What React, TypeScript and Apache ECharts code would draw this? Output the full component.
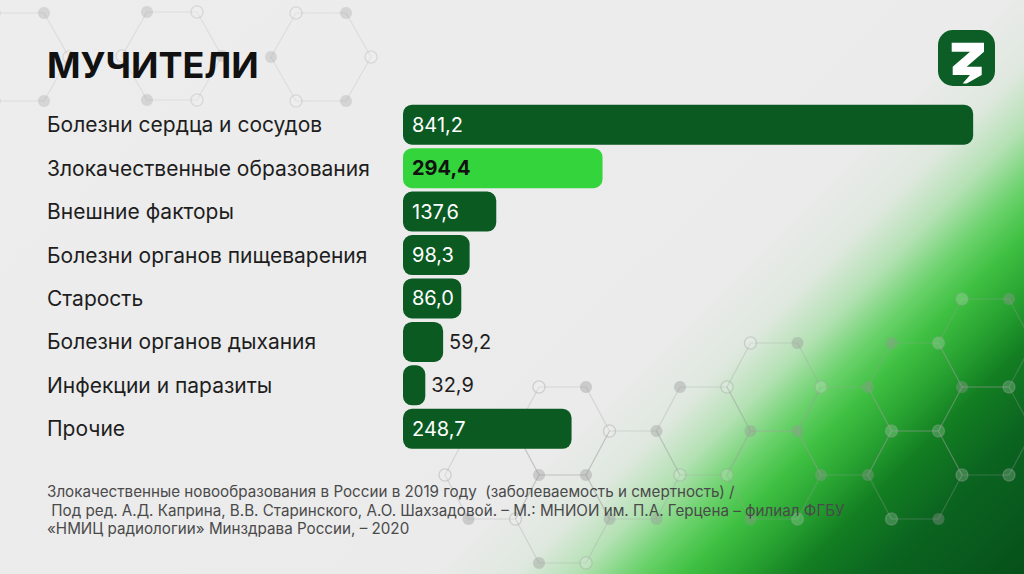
import React, { useEffect, useRef } from "react";
import * as echarts from "echarts";

const title = "МУЧИТЕЛИ";
const categories = [
  "Болезни сердца и сосудов",
  "Злокачественные образования",
  "Внешние факторы",
  "Болезни органов пищеварения",
  "Старость",
  "Болезни органов дыхания",
  "Инфекции и паразиты",
  "Прочие",
];
const values = [841.2, 294.4, 137.6, 98.3, 86.0, 59.2, 32.9, 248.7];
const highlightIndex = 1;
const footerLines = [
  "Злокачественные новообразования в России в 2019 году  (заболеваемость и смертность) /",
  " Под ред. А.Д. Каприна, В.В. Старинского, А.О. Шахзадовой. – М.: МНИОИ им. П.А. Герцена – филиал ФГБУ",
  "«НМИЦ радиологии» Минздрава России, – 2020",
];

const FONT = "Inter, 'Open Sans', sans-serif";
const DARK = "#0a5a22";
const BRIGHT = "#33d43c";

// decorative hexagon centres (background ornament)
const hexCentres: [number, number, number][] = [
  [19, 57, 50], [172, 56, 50], [321, 57, 50],
  [492, 475, 47], [562.5, 431, 47], [562.5, 519, 47], [633, 475, 47],
  [703.5, 431, 47], [774, 387, 47], [774, 475, 47], [844.5, 431, 47],
  [915, 387, 47], [915, 475, 47], [985.5, 431, 47], [985.5, 343, 47],
];

function hexDecor() {
  const els: any[] = [];
  const hh = 44;
  const seen = new Set<string>();
  hexCentres.forEach(([cx, cy, s], hi) => {
    const top = cy < 200;
    const a = top ? 0.2 : 0.3;
    const pts = [
      [cx - s / 2, cy - hh], [cx + s / 2, cy - hh], [cx + s, cy],
      [cx + s / 2, cy + hh], [cx - s / 2, cy + hh], [cx - s, cy],
    ];
    els.push({
      type: "polygon",
      shape: { points: pts },
      style: { fill: "none", stroke: `rgba(160,160,160,${a})`, lineWidth: 1.2 },
      z: 1,
      silent: true,
    });
    pts.forEach((p, k) => {
      const key = Math.round(p[0]) + "," + Math.round(p[1]);
      if (seen.has(key)) return;
      seen.add(key);
      const ring = (hi + k) % 2 === 0;
      els.push({
        type: "circle",
        shape: { cx: p[0], cy: p[1], r: 6 },
        style: ring
          ? { fill: "rgba(245,245,245,0.2)", stroke: `rgba(160,160,160,${a + 0.08})`, lineWidth: 1.3 }
          : { fill: `rgba(150,150,150,${a + 0.08})` },
        z: 1,
        silent: true,
      });
    });
  });
  return els;
}

export default function App() {
  const ref = useRef<HTMLDivElement>(null);
  useEffect(() => {
    document.body.style.margin = "0";
    const chart = echarts.init(ref.current!, undefined, { renderer: "svg" });
    const fmt = (v: number) => v.toFixed(1).replace(".", ",");
    const data = values.map((v, i) => {
      const hi = i === highlightIndex;
      const outside = v < 60;
      return {
        value: v,
        itemStyle: { color: hi ? BRIGHT : DARK, borderRadius: 9 },
        label: {
          show: true,
          position: outside ? "right" : "insideLeft",
          distance: outside ? 6 : 9,
          formatter: () => fmt(v),
          color: hi ? "#111" : outside ? "#1e1e1e" : "#ffffff",
          fontWeight: hi ? "bold" : "normal",
          fontSize: 20,
          fontFamily: FONT,
        },
      };
    });
    const logoPts = [
      [951.7, 42.7], [984, 42.7], [984, 51.7], [966.7, 66.7], [981.7, 66.7], [981.7, 75],
      [966.7, 83.5], [962.7, 83.5], [970, 75], [952.7, 75], [952.7, 66.7], [970, 51.7], [951.7, 51.7],
    ];
    chart.setOption({
      animation: false,
      backgroundColor: "#ebebeb",
      graphic: [
        {
          type: "rect",
          shape: { x: 0, y: 0, width: 1024, height: 574 },
          style: {
            fill: new echarts.graphic.LinearGradient(
              0, 0, 799, 799,
              [
                { offset: 0, color: "#ededed" },
                { offset: 0.626, color: "#ebebeb" },
                { offset: 0.682, color: "#dfe8df" },
                { offset: 0.72, color: "#b4e1b4" },
                { offset: 0.757, color: "#6ad26b" },
                { offset: 0.788, color: "#3fc042" },
                { offset: 0.826, color: "#26a030" },
                { offset: 0.857, color: "#137f22" },
                { offset: 0.907, color: "#0b6420" },
                { offset: 1, color: "#06501a" },
              ],
              true
            ),
          },
          z: 0,
          silent: true,
        },
        ...hexDecor(),
        {
          type: "text",
          left: 47,
          top: 47,
          style: { text: title, fontSize: 36, fontWeight: "bold", fill: "#111", fontFamily: FONT },
          z: 5,
        },
        {
          type: "rect",
          shape: { x: 938, y: 30, width: 57, height: 56, r: 15 },
          style: { fill: "#0d5e26" },
          z: 5,
        },
        {
          type: "polygon",
          shape: { points: logoPts },
          style: { fill: "#ffffff" },
          z: 6,
        },
        ...footerLines.map((t, i) => ({
          type: "text",
          left: 47,
          top: 484 + i * 18.5,
          style: { text: t, fontSize: 15.2, fill: "#4a4a4a", fontFamily: FONT },
          z: 5,
        })),
      ],
      grid: { left: 403, top: 103, width: 610, height: 347.5, containLabel: false },
      xAxis: { type: "value", min: 0, max: 900, show: false },
      yAxis: {
        type: "category",
        data: categories,
        inverse: true,
        axisLine: { show: false },
        axisTick: { show: false },
        splitLine: { show: false },
        axisLabel: {
          align: "left",
          margin: 356,
          fontSize: 21,
          color: "#1e1e1e",
          fontFamily: FONT,
        },
      },
      series: [
        {
          type: "bar",
          data,
          barWidth: 40,
          z: 3,
        },
      ],
    });
    return () => chart.dispose();
  }, []);
  return <div ref={ref} style={{ width: 1024, height: 574 }} />;
}
